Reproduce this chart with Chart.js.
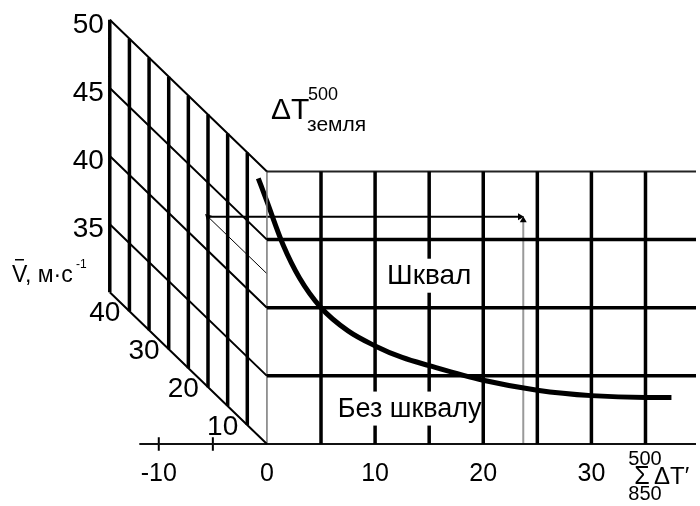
<!DOCTYPE html>
<html>
<head>
<meta charset="utf-8">
<script src="https://cdn.jsdelivr.net/npm/chart.js@4.4.1/dist/chart.umd.min.js"></script>
<style>
  html, body { margin: 0; padding: 0; background: #fff; }
  #wrap { width: 700px; height: 506px; }
</style>
</head>
<body>
<div id="wrap"><canvas id="nomogram"></canvas></div>
<script>
const FONT = '"Liberation Sans", Arial, sans-serif';

// bottom axis: sum of ΔT' between 850 and 500 hPa
const xTicks = [-10, 0, 10, 20, 30];
const xGrid = [5, 10, 15, 20, 25, 30, 35];
const negTicks = [-10, -5];
const axisStart = -11.8;

// wind speed levels, m/s
const vLevels = [50, 45, 40, 35, 30];
const vLabels = [50, 45, 40, 35];

// ΔT ground–500 hPa, drawn as the slanted depth axis
const dtzLevels = [5, 10, 15, 20, 25, 30, 35, 40];
const dtzLabels = [40, 30, 20, 10];

// squall / no squall boundary
const curveX = [-0.8, 0, 1.5, 3, 5, 7.5, 10, 12.5, 15, 20, 25, 30, 35, 37.4];
const curveV = [49.5, 47.8, 44.6, 42.2, 40.0, 38.3, 37.2, 36.35, 35.75, 34.68, 33.95, 33.55, 33.42, 33.42];

// worked example (arrows)
const exampleSum = 23.7;
const exampleV = 42.5;
const exampleDtz = 15;

const X_MIN = -24.31, X_MAX = 39.67;
const Y_MIN = 30, Y_MAX = 62.29;
const V_TOP = 50, V_BOTTOM = 30;
const DTZ_MAX = 40;
// one unit of ΔT(ground) shifts a point left and up
const DEPTH_DX = -14.53 / 40;
const DEPTH_DV = 11.13 / 40;

function project(dtz, v) {
  return { x: dtz * DEPTH_DX, y: v + dtz * DEPTH_DV };
}

const BREAK = { x: NaN, y: null };

function segments(list) {
  const out = [];
  list.forEach(([a, b]) => { out.push(a, b, BREAK); });
  return out;
}

function lineSet(data, width, color) {
  return {
    data, showLine: true, borderColor: color || '#000', borderWidth: width,
    pointRadius: 0, spanGaps: false, clip: false, tension: 0
  };
}

const slantedV = segments(vLevels.map(v => [project(0, v), project(DTZ_MAX, v)]));
const slantedDepth = segments(dtzLevels.map(d => [project(d, V_BOTTOM), project(d, V_TOP)]));
const frameVert = segments(xGrid.map(x => [{ x, y: V_BOTTOM }, { x, y: V_TOP }]));
const frameHoriz = segments(vLevels.slice(1, -1).map(v => [{ x: 0, y: v }, { x: X_MAX, y: v }]));
const tickMarks = segments(negTicks.map(x => [{ x, y: V_BOTTOM - 0.5 }, { x, y: V_BOTTOM + 0.5 }]));

const diagEnd = project(exampleDtz, exampleV);
const arrowLevel = diagEnd.y;

const datasets = [
  lineSet(slantedV, 2),
  lineSet(slantedDepth, 3.5),
  lineSet(frameVert, 3.5),
  lineSet(frameHoriz, 3.5),
  lineSet([{ x: 0, y: V_TOP }, { x: X_MAX, y: V_TOP }], 2, '#222'),
  lineSet([{ x: axisStart, y: V_BOTTOM }, { x: X_MAX, y: V_BOTTOM }], 2, '#111'),
  lineSet([{ x: 0, y: V_BOTTOM }, { x: 0, y: V_TOP }], 1.5, '#777'),
  lineSet(tickMarks, 2),
  {
    ...lineSet(curveX.map((x, i) => ({ x, y: curveV[i] })), 5),
    tension: 0.4, cubicInterpolationMode: 'monotone', borderCapStyle: 'butt'
  },
  // example path: slanted pointer, horizontal transfer, vertical from the axis
  {
    ...lineSet([{ x: 0, y: exampleV }, diagEnd], 1),
    pointRadius: [0, 4], pointStyle: 'triangle', pointRotation: [0, -46],
    pointBackgroundColor: '#000', pointBorderWidth: 0
  },
  {
    ...lineSet([{ x: diagEnd.x, y: arrowLevel }, { x: exampleSum - 0.3, y: arrowLevel }], 2),
    pointRadius: [0, 4], pointStyle: 'triangle', pointRotation: [0, 90],
    pointBackgroundColor: '#000', pointBorderWidth: 0
  },
  {
    ...lineSet([{ x: exampleSum, y: V_BOTTOM }, { x: exampleSum, y: arrowLevel - 0.25 }], 2, '#999'),
    pointRadius: [0, 4], pointStyle: 'triangle', pointRotation: [0, 0],
    pointBackgroundColor: '#000', pointBorderWidth: 0
  }
];

const textPlugin = {
  id: 'nomogramText',
  afterDatasetsDraw(chart) {
    const { ctx, scales: { x, y } } = chart;
    const px = v => x.getPixelForValue(v);
    const py = v => y.getPixelForValue(v);
    ctx.save();
    ctx.fillStyle = '#000';

    // wind speed labels along the back edge
    ctx.font = `28px ${FONT}`;
    ctx.textAlign = 'right';
    ctx.textBaseline = 'middle';
    vLabels.forEach(v => {
      const p = project(DTZ_MAX, v);
      ctx.fillText(String(v), px(p.x) - 6, py(p.y) + 5);
    });

    // ΔT(ground) labels under the slanted edge
    ctx.textAlign = 'center';
    dtzLabels.forEach(d => {
      const p = project(d, V_BOTTOM);
      ctx.fillText(String(d), px(p.x) - 5, py(p.y) + 21);
    });

    // region names on white backing
    function region(text, xv, yv, size, trimRight) {
      ctx.font = `${size}px ${FONT}`;
      const w = ctx.measureText(text).width;
      const cx = px(xv), cy = py(yv);
      ctx.fillStyle = '#fff';
      ctx.fillRect(cx - w / 2 - 4, cy - 17, w + 8 - trimRight, 34);
      ctx.fillStyle = '#000';
      ctx.textAlign = 'center';
      ctx.textBaseline = 'middle';
      ctx.fillText(text, cx, cy + 1);
    }
    region('Шквал', 15.0, 42.35, 28, 0);
    region('Без шквалу', 13.2, 32.6, 27, 16);

    ctx.textAlign = 'left';
    ctx.textBaseline = 'alphabetic';

    // ΔT ground–500 title
    ctx.font = `30px ${FONT}`;
    ctx.fillText('ΔT', 271, 119);
    ctx.font = `18px ${FONT}`;
    ctx.fillText('500', 308, 100);
    ctx.font = `21px ${FONT}`;
    ctx.fillText('земля', 307, 131);

    // wind speed title
    ctx.font = `23px ${FONT}`;
    ctx.fillText('V', 12, 282);
    ctx.fillRect(15, 259, 9, 1.5);
    ctx.fillText(', м·с', 25, 282);
    ctx.font = `12px ${FONT}`;
    ctx.fillText('-1', 76, 268);

    // sum of ΔT' title
    ctx.font = `20px ${FONT}`;
    ctx.textAlign = 'center';
    ctx.fillText('500', 645, 465);
    ctx.fillText('850', 645, 500);
    ctx.font = `25px ${FONT}`;
    ctx.fillText('Σ', 642, 484);
    ctx.textAlign = 'left';
    ctx.font = `24px ${FONT}`;
    ctx.fillText('ΔT′', 654, 484);

    ctx.restore();
  }
};

new Chart(document.getElementById('nomogram'), {
  type: 'scatter',
  data: { datasets },
  options: {
    responsive: true,
    maintainAspectRatio: false,
    animation: false,
    layout: { padding: 0 },
    plugins: { legend: { display: false }, tooltip: { enabled: false } },
    scales: {
      x: {
        type: 'linear', min: X_MIN, max: X_MAX,
        grid: { display: false, drawTicks: false },
        border: { display: false },
        afterBuildTicks: s => { s.ticks = xTicks.map(v => ({ value: v })); },
        afterFit: s => { s.height = 62; },
        ticks: {
          color: '#000', padding: 15, maxRotation: 0, autoSkip: false,
          font: { family: FONT, size: 25 }
        }
      },
      y: { type: 'linear', display: false, min: Y_MIN, max: Y_MAX }
    }
  },
  plugins: [textPlugin]
});
</script>
</body>
</html>
